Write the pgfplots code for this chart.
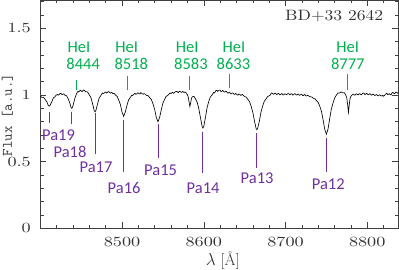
\documentclass[border=0pt]{standalone}
\usepackage{fontspec}
\usepackage{pgfplots}
\pgfplotsset{compat=1.18}
\newfontfamily\tickfont{lmroman10-regular.otf}[FakeStretch=1.3]
\newfontfamily\bdfont{lmroman10-regular.otf}[FakeStretch=1.17]
\newfontfamily\calfont{Carlito}
\definecolor{heg}{RGB}{0,176,80}
\definecolor{pap}{RGB}{112,48,160}
\begin{document}
\begin{tikzpicture}
\begin{axis}[name=ax, scale only axis, width=358pt, height=228.3pt,
  xmin=8400, xmax=8838, ymin=0, ymax=1.713,
  xtick={8500,8600,8700,8800}, minor xtick={8420,8440,...,8820},
  ytick={0,0.5,1,1.5}, minor ytick={0.1,0.2,0.3,0.4,0.6,0.7,0.8,0.9,1.1,1.2,1.3,1.4,1.6,1.7},
  tick align=inside, major tick length=6pt, minor tick length=3.5pt,
  axis line style={black!75, line width=0.6pt},
  every tick/.style={black!75, line width=0.5pt},
  /pgf/number format/assume math mode=true, /pgf/number format/1000 sep={},
  tick label style={font=\tickfont\fontsize{14}{14}\selectfont, text=black!80, inner sep=0pt},
  xticklabel style={yshift=-8.4pt}, yticklabel style={xshift=-9.3pt},
  xlabel={$\lambda$ [Å]},
  xlabel style={at={(axis description cs:0.510,-0.141)}, anchor=center, inner sep=0pt, font=\fontsize{16}{16}\selectfont, text=black!80},
  ylabel={Flux [a.u.]},
  ylabel style={at={(axis description cs:-0.0916,0.496)}, anchor=center, inner sep=0pt, font=\ttfamily\fontsize{14.5}{14.5}\selectfont, text=black!80},
]
\addplot[black, line width=0.65pt, mark=none] table {
8400 0.991
8402 0.982
8404 0.983
8406 0.966
8408 0.949
8410 0.919
8411 0.917
8412 0.924
8414 0.948
8416 0.980
8418 0.986
8419 0.997
8420 1.001
8421 1.004
8422 0.999
8423 1.003
8424 1.011
8425 1.012
8426 1.006
8427 1.003
8428 1.009
8429 1.007
8430 0.999
8432 0.995
8434 0.973
8436 0.943
8437 0.919
8438 0.901
8439 0.905
8440 0.920
8441 0.944
8442 0.968
8443 0.988
8444 1.005
8445 1.018
8446 1.027
8447 1.023
8448 1.029
8449 1.035
8450 1.031
8451 1.026
8452 1.032
8453 1.038
8454 1.035
8455 1.027
8456 1.023
8457 1.025
8458 1.020
8459 1.012
8460 1.001
8462 0.980
8464 0.933
8466 0.883
8467 0.874
8468 0.884
8470 0.932
8472 0.978
8474 0.995
8476 1.015
8477 1.010
8478 1.014
8479 1.020
8480 1.022
8481 1.015
8482 1.019
8483 1.026
8484 1.024
8485 1.018
8486 1.014
8487 1.019
8488 1.017
8489 1.010
8490 1.013
8491 1.008
8492 0.999
8494 0.990
8496 0.962
8498 0.928
8500 0.872
8502 0.840
8504 0.873
8506 0.921
8508 0.963
8510 0.981
8512 0.999
8513 0.996
8514 1.002
8515 1.009
8516 1.012
8517 1.006
8518 1.008
8519 1.016
8520 1.015
8521 1.010
8522 1.008
8523 1.018
8524 1.014
8525 1.008
8526 1.006
8527 1.011
8528 1.008
8529 1.002
8530 0.997
8532 0.995
8534 0.979
8536 0.965
8538 0.931
8540 0.890
8542 0.830
8544 0.799
8546 0.833
8548 0.888
8550 0.939
8552 0.966
8554 0.990
8556 0.997
8557 1.003
8558 1.012
8559 1.015
8560 1.011
8561 1.017
8562 1.020
8563 1.013
8564 1.017
8565 1.024
8566 1.026
8567 1.027
8568 1.021
8569 1.019
8570 1.029
8571 1.027
8572 1.022
8573 1.020
8574 1.026
8575 1.024
8576 1.019
8577 1.023
8578 1.019
8580 1.002
8581 0.984
8582 0.948
8583 0.914
8584 0.943
8585 0.974
8586 0.987
8588 0.990
8590 0.970
8592 0.945
8594 0.895
8596 0.829
8598 0.763
8599 0.752
8600 0.765
8602 0.829
8604 0.904
8606 0.949
8608 0.985
8610 0.999
8612 1.019
8613 1.015
8614 1.024
8615 1.034
8616 1.035
8617 1.027
8618 1.032
8619 1.038
8620 1.036
8621 1.026
8622 1.028
8623 1.034
8624 1.031
8625 1.022
8626 1.023
8627 1.029
8628 1.025
8629 1.016
8630 1.015
8631 1.021
8632 1.017
8633 1.009
8634 1.010
8635 1.016
8636 1.014
8637 1.006
8638 1.006
8639 1.011
8640 1.008
8641 1.000
8642 1.000
8643 1.007
8644 1.006
8645 0.998
8646 0.999
8647 1.005
8648 0.999
8650 0.988
8652 0.984
8654 0.967
8656 0.950
8658 0.915
8660 0.870
8662 0.806
8664 0.749
8665 0.740
8666 0.751
8668 0.804
8670 0.872
8672 0.916
8674 0.953
8676 0.969
8678 0.989
8680 0.994
8681 0.997
8682 1.008
8683 1.015
8684 1.013
8685 1.006
8686 1.007
8687 1.014
8688 1.013
8689 1.004
8690 1.005
8691 1.012
8692 1.010
8693 1.001
8694 1.003
8695 1.010
8696 1.009
8697 1.000
8698 1.002
8699 1.009
8700 1.008
8701 1.002
8702 1.005
8703 1.011
8704 1.010
8705 1.002
8706 1.003
8707 1.010
8708 1.008
8709 0.999
8710 1.003
8711 1.010
8712 1.008
8713 1.001
8714 1.000
8715 1.007
8716 1.006
8717 0.998
8718 1.000
8719 1.006
8720 1.004
8721 0.996
8722 0.997
8723 1.003
8724 1.000
8725 0.994
8726 0.993
8727 0.998
8728 0.995
8730 0.987
8732 0.986
8734 0.976
8736 0.972
8738 0.957
8740 0.945
8742 0.915
8744 0.877
8746 0.814
8748 0.742
8750 0.705
8752 0.744
8754 0.821
8756 0.892
8758 0.937
8760 0.976
8762 0.997
8764 1.015
8766 1.015
8768 1.023
8770 1.016
8772 1.017
8774 0.996
8775 0.977
8776 0.929
8777 0.870
8778 0.928
8779 0.974
8780 0.991
8782 1.004
8783 1.007
8784 1.001
8785 0.999
8786 1.007
8787 1.009
8788 1.003
8789 1.001
8790 1.008
8791 1.010
8792 1.004
8793 1.002
8794 1.011
8795 1.016
8796 1.013
8797 1.004
8798 1.006
8799 1.012
8800 1.009
8801 1.002
8802 1.003
8803 1.010
8804 1.007
8805 0.999
8806 1.001
8807 1.007
8808 1.004
8809 0.997
8810 0.998
8811 1.004
8812 1.001
8813 0.994
8814 0.996
8815 1.002
8816 0.999
8817 0.993
8818 0.994
8819 0.997
8820 0.991
8821 0.996
8822 1.004
8823 1.010
8824 1.013
8825 1.003
8826 1.006
8827 1.010
8828 1.004
8829 1.001
8830 1.012
8831 1.019
8832 1.017
8833 1.010
8834 1.013
8835 1.022
8836 1.021
8837 1.014
8838 1.018
};
% HeI markers
\draw[heg, line width=0.8pt] (8443.7,1.035) -- (8443.7,1.112);
\draw[heg, line width=0.8pt] (8507.0,1.038) -- (8507.0,1.142);
\draw[heg, line width=0.8pt] (8582.4,1.038) -- (8582.4,1.142);
\draw[heg, line width=0.8pt] (8631.4,1.050) -- (8631.4,1.157);
\draw[heg, line width=0.8pt] (8775.5,1.038) -- (8775.5,1.157);
% Paschen markers
\draw[pap, line width=0.8pt] (8410.7,0.875) -- (8410.7,0.790);
\draw[pap, line width=0.8pt] (8438.4,0.875) -- (8438.4,0.782);
\draw[pap, line width=0.8pt] (8467.0,0.863) -- (8467.0,0.555);
\draw[pap, line width=0.8pt] (8501.6,0.810) -- (8501.6,0.420);
\draw[pap, line width=0.8pt] (8544.1,0.782) -- (8544.1,0.530);
\draw[pap, line width=0.8pt] (8598.9,0.725) -- (8598.9,0.413);
\draw[pap, line width=0.8pt] (8664.5,0.713) -- (8664.5,0.455);
\draw[pap, line width=0.8pt] (8749.8,0.677) -- (8749.8,0.420);
% labels
\tikzset{hel/.style={font=\calfont\fontsize{16.5}{16.5}\selectfont, text=heg, inner sep=0pt, anchor=center},
         pal/.style={font=\calfont\fontsize{16.5}{16.5}\selectfont, text=pap, inner sep=0pt, anchor=center}}
\node[hel] at (8447.4,1.356) {HeI};
\node[hel] at (8452.5,1.235) {8444};
\node[hel] at (8505.8,1.356) {HeI};
\node[hel] at (8511.4,1.235) {8518};
\node[hel] at (8579.6,1.356) {HeI};
\node[hel] at (8584.3,1.235) {8583};
\node[hel] at (8636.9,1.356) {HeI};
\node[hel] at (8636.3,1.235) {8633};
\node[hel] at (8776.2,1.356) {HeI};
\node[hel] at (8776.2,1.235) {8777};
\node[pal] at (8422.3,0.700) {Pa19};
\node[pal] at (8436.4,0.572) {Pa18};
\node[pal] at (8468.2,0.456) {Pa17};
\node[pal] at (8502.5,0.302) {Pa16};
\node[pal] at (8547.2,0.437) {Pa15};
\node[pal] at (8599.2,0.302) {Pa14};
\node[pal] at (8665.3,0.374) {Pa13};
\node[pal] at (8752.3,0.332) {Pa12};
\node[font=\bdfont\fontsize{15}{15}\selectfont, text=black!80, inner sep=0pt, anchor=center] at (8759.6,1.593) {BD+33 2642};
\end{axis}
\pgfresetboundingbox
\path[use as bounding box] ([xshift=-40.3pt,yshift=-41.7pt]ax.south west) rectangle ([xshift=0.7pt]ax.north east);
\end{tikzpicture}
\end{document}
